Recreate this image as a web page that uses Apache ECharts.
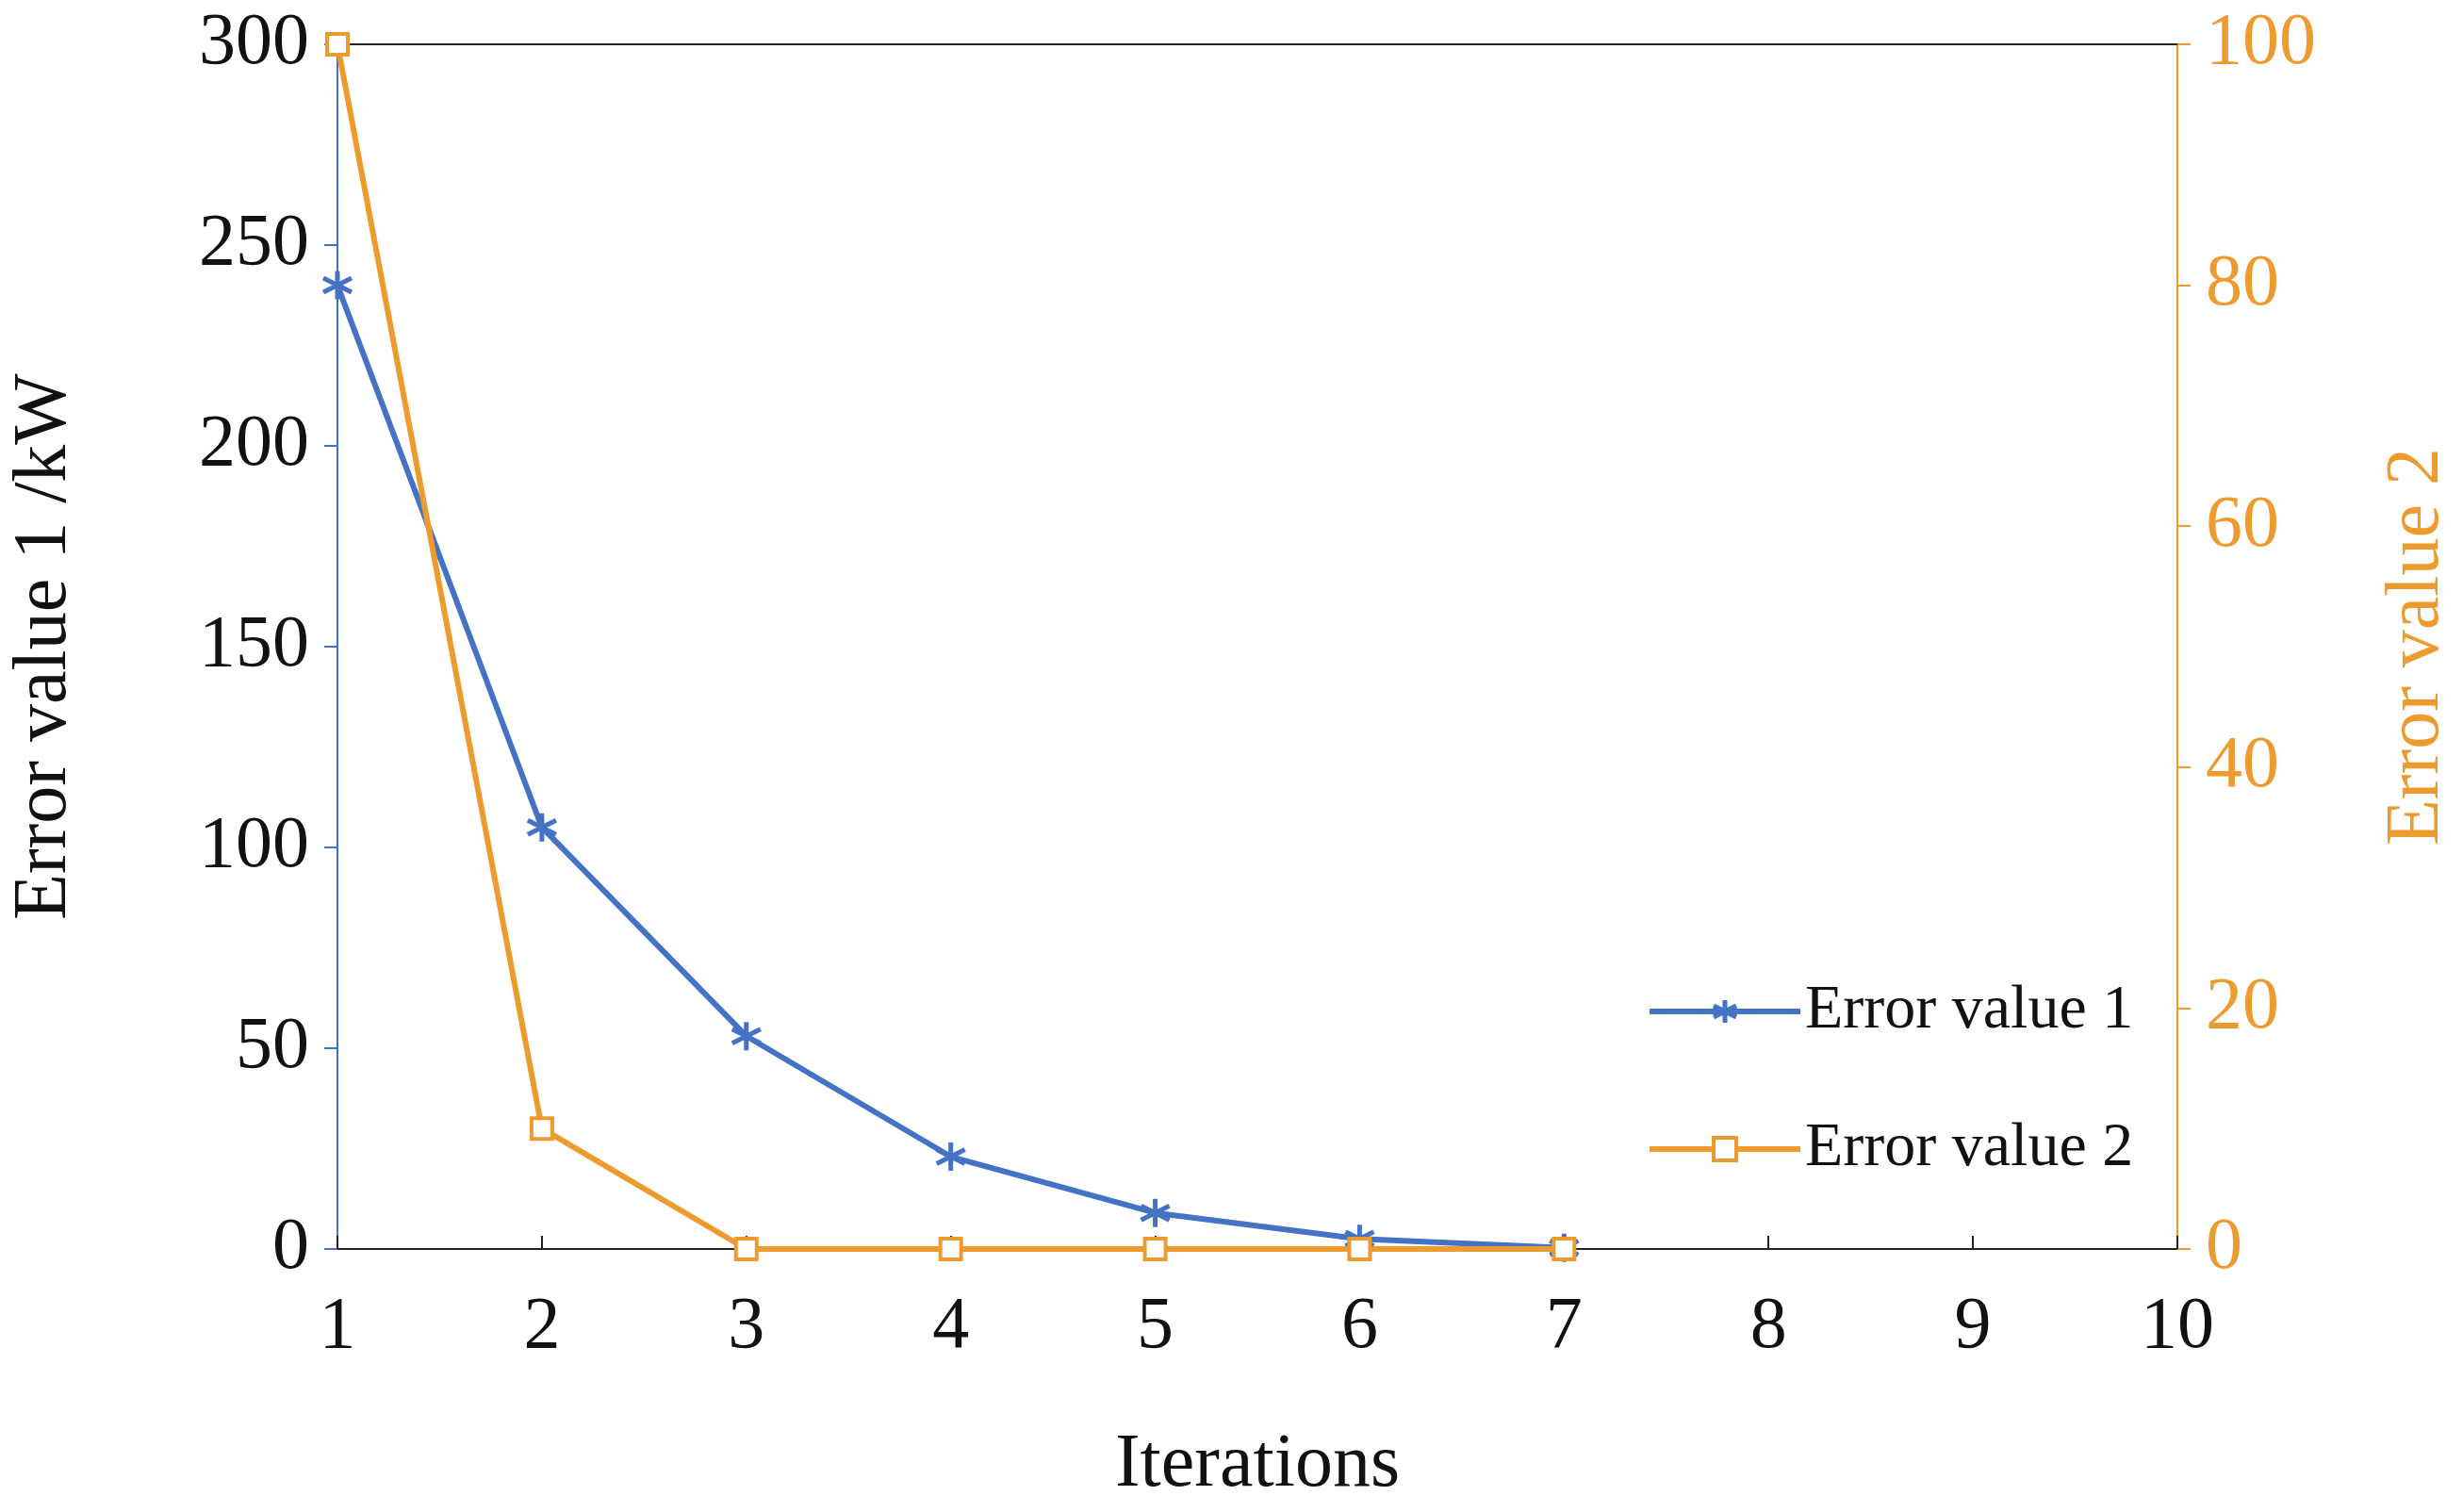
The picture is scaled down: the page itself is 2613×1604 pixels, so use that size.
<!DOCTYPE html>
<html>
<head>
<meta charset="utf-8">
<script src="https://cdn.jsdelivr.net/npm/echarts@6/dist/echarts.min.js"></script>
<style>html,body{margin:0;padding:0;background:#fff}#chart{width:2613px;height:1604px}</style>
</head>
<body>
<div id="chart"></div>
<script>
// 数据
const iterations = [1, 2, 3, 4, 5, 6, 7];
const errorValue1 = [240, 105, 53, 23, 9, 2.5, 0.3];
const errorValue2 = [100, 10, 0, 0, 0, 0, 0];

const blue = '#4472C4';
const orange = '#ED9A2E';
const font = 'Liberation Serif';
const star = 'path://M0,-10L0,10M-8.66,-5L8.66,5M-8.66,5L8.66,-5';

const option = {
    backgroundColor: '#fff',
    textStyle: {fontFamily: font},
    grid: {left: 342, right: 296, top: 47, bottom: 279},
    legend: {
        orient: 'vertical',
        left: 1742, top: 1035,
        itemWidth: 160, itemHeight: 30, itemGap: 80,
        textStyle: {fontFamily: font, fontSize: 66, color: '#111'},
        data: [
            {name: 'Error value 1', lineStyle: {width: 6}, itemStyle: {borderWidth: 5}},
            {name: 'Error value 2', lineStyle: {width: 6}, itemStyle: {borderWidth: 4}}
        ]
    },
    xAxis: {
        type: 'value', min: 1, max: 10, interval: 1,
        name: 'Iterations', nameLocation: 'middle', nameGap: 190,
        nameTextStyle: {fontFamily: font, fontSize: 80, color: '#111'},
        axisLine: {lineStyle: {color: '#222', width: 2}},
        axisTick: {inside: true, length: 14, lineStyle: {color: '#222', width: 2}},
        axisLabel: {fontFamily: font, fontSize: 78, color: '#111', margin: 45},
        splitLine: {show: false}
    },
    yAxis: [{
        type: 'value', min: 0, max: 300, interval: 50,
        name: 'Error value 1 /kW', nameLocation: 'middle', nameGap: 270,
        nameTextStyle: {fontFamily: font, fontSize: 80, color: '#111'},
        axisLine: {show: true, lineStyle: {color: blue, width: 2}},
        axisTick: {show: true, length: 14, lineStyle: {color: blue, width: 2}},
        axisLabel: {fontFamily: font, fontSize: 78, color: '#111', margin: 30},
        splitLine: {show: false}
    }, {
        type: 'value', min: 0, max: 100, interval: 20,
        name: 'Error value 2', nameLocation: 'middle', nameGap: 215, nameRotate: 90,
        nameTextStyle: {fontFamily: font, fontSize: 80, color: orange},
        axisLine: {show: true, lineStyle: {color: orange, width: 2}},
        axisTick: {show: true, length: 14, lineStyle: {color: orange, width: 2}},
        axisLabel: {fontFamily: font, fontSize: 78, color: orange, margin: 30},
        splitLine: {show: false}
    }],
    series: [{
        name: 'Error value 1', type: 'line', yAxisIndex: 0,
        data: iterations.map((x, i) => [x, errorValue1[i]]),
        symbol: star, symbolSize: 30,
        lineStyle: {color: blue, width: 6},
        itemStyle: {color: blue, borderColor: blue, borderWidth: 5},
        z: 3
    }, {
        name: 'Error value 2', type: 'line', yAxisIndex: 1,
        data: iterations.map((x, i) => [x, errorValue2[i]]),
        symbol: 'rect', symbolSize: 22,
        lineStyle: {color: orange, width: 6},
        itemStyle: {color: '#fff', borderColor: orange, borderWidth: 4},
        z: 4
    }, {
        // 顶部边框
        type: 'line', yAxisIndex: 0, silent: true, symbol: 'none',
        data: [[1, 300], [10, 300]],
        lineStyle: {color: '#222', width: 2}, z: 1
    }]
};
const chart = echarts.init(document.getElementById('chart'));
chart.setOption(option);
</script>
</body>
</html>
